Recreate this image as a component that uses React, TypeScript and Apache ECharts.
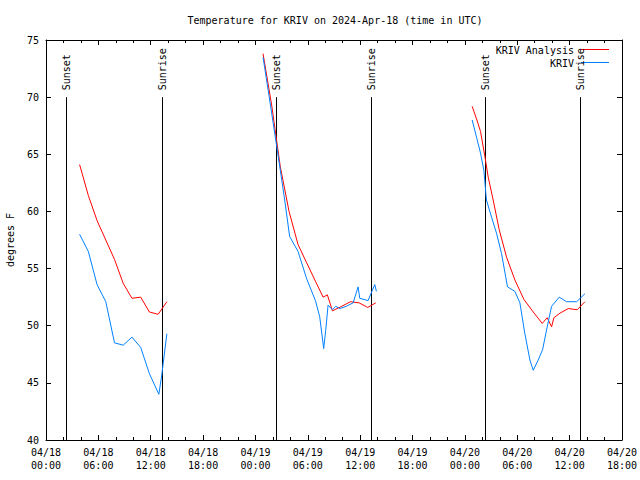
import React, { useEffect, useRef } from "react";
import * as echarts from "echarts";

const FONT = "DejaVu Sans Mono";
const RED = "#ff0000";
const BLUE = "#0080ff";

const titleText = "Temperature for KRIV on 2024-Apr-18 (time in UTC)";
const yName = "degrees F";
const analysisName = "KRIV Analysis";
const obsName = "KRIV";

// x values are hours since 2024-04-18 00:00 UTC
const xTickLabels = [
  "04/18\n00:00", "04/18\n06:00", "04/18\n12:00", "04/18\n18:00",
  "04/19\n00:00", "04/19\n06:00", "04/19\n12:00", "04/19\n18:00",
  "04/20\n00:00", "04/20\n06:00", "04/20\n12:00", "04/20\n18:00",
];

const sunHours = [2.3, 13.25, 26.3, 37.22, 50.3, 61.2];
const sunLabels = ["Sunset", "Sunrise", "Sunset", "Sunrise", "Sunset", "Sunrise"];

const analysis1Hours = [3.85, 4.85, 5.85, 6.85, 7.85, 8.85, 9.85, 10.85, 11.85, 12.85, 13.85];
const analysis1Temps = [64.1, 61.4, 59.2, 57.5, 55.8, 53.7, 52.4, 52.5, 51.2, 51.0, 52.1];
const analysis2Hours = [24.87, 25.86, 26.85, 27.85, 28.88, 29.87, 30.87, 31.75, 32.24, 32.82, 33.89, 34.88, 35.87, 36.87, 37.79];
const analysis2Temps = [73.8, 69.3, 63.9, 60.0, 57.1, 55.5, 53.9, 52.5, 52.7, 51.3, 51.7, 52.1, 52.0, 51.6, 52.0];
const analysis3Hours = [48.83, 49.33, 49.79, 50.29, 50.67, 51.24, 51.93, 52.77, 53.73, 54.76, 55.83, 56.86, 57.43, 57.93, 58.2, 58.89, 59.84, 60.87, 61.75];
const analysis3Temps = [69.2, 68.1, 67.0, 64.8, 63.0, 61.0, 58.4, 56.0, 54.0, 52.3, 51.2, 50.2, 50.7, 49.9, 50.7, 51.1, 51.5, 51.4, 52.1];

const obs1Hours = [3.85, 4.85, 5.85, 6.85, 7.85, 8.85, 9.85, 10.85, 11.85, 12.93, 13.25, 13.85];
const obs1Temps = [58.0, 56.5, 53.6, 52.1, 48.5, 48.3, 49.0, 48.1, 45.8, 44.0, 45.6, 49.3];
const obs2Hours = [24.87, 25.86, 26.85, 27.35, 27.92, 28.88, 29.87, 30.87, 31.36, 31.82, 32.05, 32.32, 32.82, 33.2, 33.66, 34.42, 35.19, 35.76, 35.95, 36.9, 37.67, 37.86];
const obs2Temps = [73.5, 68.6, 63.6, 61.0, 57.8, 56.5, 54.1, 52.2, 50.8, 48.0, 49.6, 51.8, 51.4, 51.7, 51.5, 51.7, 52.0, 53.4, 52.4, 52.2, 53.6, 53.0];
const obs3Hours = [48.83, 49.33, 49.79, 50.17, 50.47, 51.05, 51.62, 52.2, 52.88, 53.73, 54.3, 54.87, 55.45, 55.83, 56.4, 56.9, 57.43, 57.93, 58.81, 59.65, 60.8, 61.75];
const obs3Temps = [68.0, 66.5, 65.1, 63.6, 61.0, 59.5, 58.1, 56.3, 53.4, 53.0, 52.0, 49.3, 47.0, 46.1, 47.0, 47.9, 49.9, 51.7, 52.5, 52.1, 52.1, 52.8];

function joinSegments(segs: [number[], number[]][]) {
  const out: any[] = [];
  segs.forEach(([hs, ts], i) => {
    if (i > 0) out.push([hs[0] - 1, "-"]);
    hs.forEach((h, j) => out.push([h, ts[j]]));
  });
  return out;
}

export default function App() {
  const ref = useRef<HTMLDivElement>(null);
  useEffect(() => {
    if (!ref.current) return;
    const chart = echarts.init(ref.current, null, { renderer: "svg" });
    const txt = { fontFamily: FONT, fontSize: 10, color: "#000" };
    const axisLine = { show: true, onZero: false, lineStyle: { color: "#000", width: 1 } };
    const xBase = {
      type: "value",
      min: 0,
      max: 66,
      interval: 6,
      axisLine,
      axisTick: { show: true, inside: true, length: 5, lineStyle: { color: "#000", width: 1 } },
      minorTick: { show: true, splitNumber: 3, length: 3, lineStyle: { color: "#000", width: 1 } },
      splitLine: { show: false },
      minorSplitLine: { show: false },
    };
    const yBase = {
      type: "value",
      min: 40,
      max: 75,
      interval: 5,
      axisLine,
      axisTick: { show: true, inside: true, length: 5, lineStyle: { color: "#000", width: 1 } },
      splitLine: { show: false },
    };
    chart.setOption({
      animation: false,
      backgroundColor: "#fff",
      textStyle: { fontFamily: FONT },
      title: {
        text: titleText,
        left: 335,
        top: 15,
        padding: 0,
        textAlign: "center",
        textStyle: { ...txt, fontWeight: "normal" },
      },
      grid: { left: 46, right: 18, top: 40, bottom: 40, containLabel: false, outerBoundsMode: "none" },
      xAxis: [
        {
          ...xBase,
          position: "bottom",
          axisLabel: {
            ...txt,
            margin: 6,
            lineHeight: 13,
            formatter: (v: number) => xTickLabels[Math.round(v / 6)] ?? "",
          },
        },
        { ...xBase, position: "top", axisLabel: { show: false } },
      ],
      yAxis: [
        {
          ...yBase,
          position: "left",
          name: yName,
          nameLocation: "middle",
          nameRotate: 90,
          nameGap: 31,
          nameTextStyle: txt,
          axisLabel: { ...txt, margin: 7 },
        },
        { ...yBase, position: "right", axisLabel: { show: false } },
      ],
      graphic: [
        { type: "text", x: 574, y: 50, style: { text: analysisName, align: "right", verticalAlign: "middle", fontFamily: FONT, fontSize: 10, fill: "#000" } },
        { type: "line", shape: { x1: 581, y1: 49.5, x2: 609, y2: 49.5 }, style: { stroke: RED, lineWidth: 1 } },
        { type: "text", x: 574, y: 63, style: { text: obsName, align: "right", verticalAlign: "middle", fontFamily: FONT, fontSize: 10, fill: "#000" } },
        { type: "line", shape: { x1: 581, y1: 62.5, x2: 609, y2: 62.5 }, style: { stroke: BLUE, lineWidth: 1 } },
      ],
      series: [
        {
          type: "custom",
          name: "sun",
          z: 1,
          data: sunHours.map((h) => [h, 40]),
          renderItem: (params: any, api: any) => {
            const h = api.value(0);
            const p0 = api.coord([h, 40]);
            const p1 = api.coord([h, 70]);
            const p2 = api.coord([h, 70.6]);
            const xs = Math.round(p0[0]) + 0.5;
            return {
              type: "group",
              children: [
                {
                  type: "line",
                  shape: { x1: xs, y1: p0[1], x2: xs, y2: p1[1] },
                  style: { stroke: "#000", lineWidth: 1 },
                },
                {
                  type: "text",
                  x: xs,
                  y: p2[1],
                  rotation: Math.PI / 2,
                  style: {
                    text: sunLabels[params.dataIndex],
                    align: "left",
                    verticalAlign: "middle",
                    fontFamily: FONT,
                    fontSize: 10,
                    fill: "#000",
                  },
                },
              ],
            };
          },
        },
        {
          type: "line",
          name: analysisName,
          z: 3,
          symbol: "none",
          connectNulls: false,
          lineStyle: { color: RED, width: 1 },
          itemStyle: { color: RED },
          data: joinSegments([
            [analysis1Hours, analysis1Temps],
            [analysis2Hours, analysis2Temps],
            [analysis3Hours, analysis3Temps],
          ]),
        },
        {
          type: "line",
          name: obsName,
          z: 4,
          symbol: "none",
          connectNulls: false,
          lineStyle: { color: BLUE, width: 1 },
          itemStyle: { color: BLUE },
          data: joinSegments([
            [obs1Hours, obs1Temps],
            [obs2Hours, obs2Temps],
            [obs3Hours, obs3Temps],
          ]),
        },
      ],
    });
    return () => chart.dispose();
  }, []);
  return (
    <div
      ref={ref}
      style={{ position: "fixed", left: 0, top: 0, width: 640, height: 480 }}
    />
  );
}
